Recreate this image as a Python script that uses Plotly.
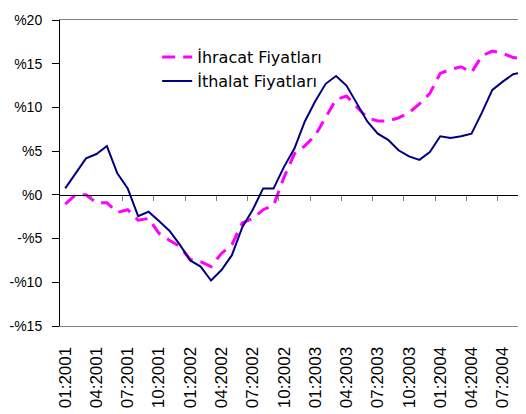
import plotly.graph_objects as go

# months 01:2001 .. 09:2004
months = [f"{m:02d}:{y}" for y in (2001, 2002, 2003, 2004) for m in range(1, 13)][:45]

ihracat = [-1.05, 0.0, 0.0, -0.9, -0.9, -2.0, -1.7, -2.9, -2.7, -4.4,
           -5.2, -5.9, -7.4, -7.65, -8.2, -6.7, -5.7, -3.2, -2.7, -1.7,
           -1.2, 2.0, 4.7, 5.6, 6.8, 8.8, 10.9, 11.3, 10.1, 8.8,
           8.45, 8.45, 8.8, 9.4, 10.4, 11.6, 13.9, 14.35, 14.65, 14.0,
           15.9, 16.45, 16.2, 15.7, 15.6]
ithalat = [0.74, 2.46, 4.17, 4.67, 5.58, 2.46, 0.74, -2.43, -1.93, -3.0,
           -4.1, -5.7, -7.5, -8.2, -9.8, -8.6, -6.9, -3.7, -1.7, 0.74,
           0.74, 3.2, 5.3, 8.4, 10.7, 12.7, 13.6, 12.5, 10.5, 8.4,
           7.0, 6.3, 5.1, 4.4, 4.0, 4.9, 6.7, 6.5, 6.7, 7.0,
           9.4, 12.0, 12.95, 13.8, 14.05]

y_ticks = [20, 15, 10, 5, 0, -5, -10, -15]
y_labels = ["%20", "%15", "%10", "%5", "%0", "-%5", "-%10", "-%15"]

x = list(range(len(months)))
label_idx = list(range(0, len(months), 3))

fig = go.Figure()
fig.add_trace(go.Scatter(x=x, y=ihracat, mode="lines", name="İhracat Fiyatları",
                         legendgroup="a",
                         line=dict(color="#FF00FF", width=3, dash="13px,8px")))
fig.add_trace(go.Scatter(x=x, y=ithalat, mode="lines", name="İthalat Fiyatları",
                         legendgroup="b",
                         line=dict(color="#000080", width=2)))
# carrier for the axis drawn at zero
fig.add_trace(go.Scatter(x=[None], y=[None], xaxis="x2", showlegend=False,
                         hoverinfo="skip"))

# page has an 8px body margin, so the figure sits 8px right/down in the shot
xr = [-0.5, 45.0]
fig.update_layout(
    width=526, height=414,
    margin=dict(l=52, r=0, t=12, b=96, autoexpand=False),
    paper_bgcolor="white", plot_bgcolor="white",
    font=dict(family="Liberation Sans, Arial", color="black"),
    showlegend=True,
    legend=dict(x=0.205, y=0.934, xanchor="left", yanchor="top",
                bgcolor="rgba(0,0,0,0)", tracegroupgap=0,
                font=dict(family="DejaVu Sans", size=16, color="black")),
    xaxis=dict(range=xr, tickvals=label_idx,
               ticktext=[months[i] for i in label_idx],
               tickangle=-90, ticks="", tickfont=dict(size=17),
               ticklabelstandoff=13, automargin=False,
               showline=True, linecolor="#808080", linewidth=1, mirror=True,
               showgrid=False, zeroline=False, fixedrange=True),
    xaxis2=dict(range=xr, overlaying="x", anchor="free", position=15 / 35,
                side="bottom", tickvals=[i + 2.5 for i in range(0, 45, 3)],
                ticks="outside", ticklen=5, tickcolor="#808080",
                showticklabels=False, showline=True, linecolor="black",
                linewidth=1, showgrid=False, zeroline=False),
    yaxis=dict(range=[-15, 20], tickvals=y_ticks, ticktext=y_labels,
               ticks="outside", ticklen=7, tickcolor="black",
               tickfont=dict(size=14), ticklabelstandoff=7, automargin=False,
               showline=True, linecolor="black",
               linewidth=1, showgrid=False, zeroline=False),
)

fig.write_html("out.html")
